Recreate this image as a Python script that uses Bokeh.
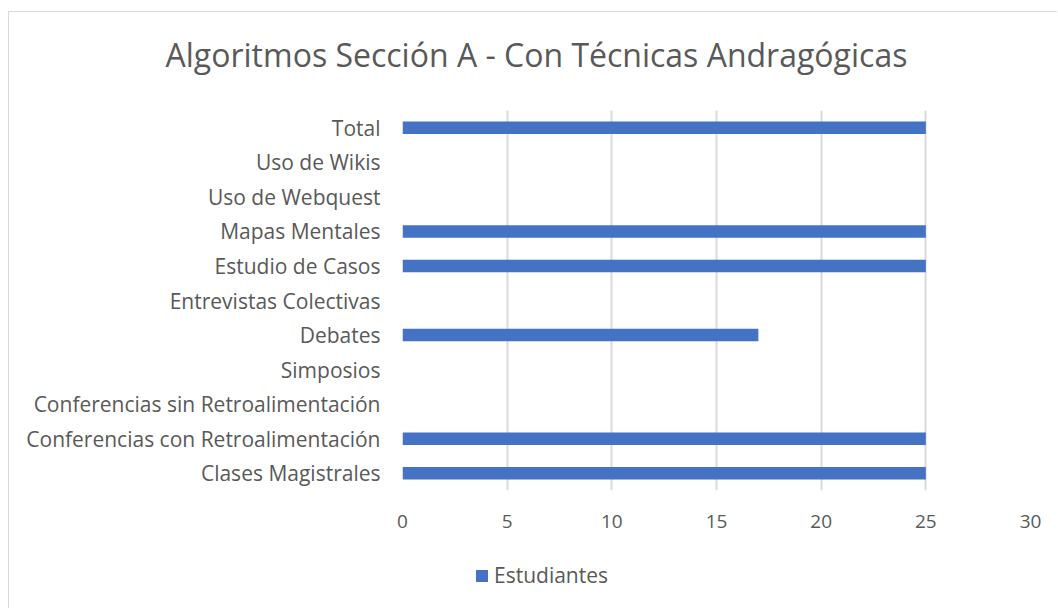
from bokeh.plotting import figure
from bokeh.layouts import column
from bokeh.models import FactorRange, Legend, LegendItem, ColumnDataSource, FixedTicker
from bokeh.embed import file_html
from bokeh.resources import INLINE

categories = ["Clases Magistrales", "Conferencias con Retroalimentación",
              "Conferencias sin Retroalimentación", "Simposios", "Debates",
              "Entrevistas Colectivas", "Estudio de Casos", "Mapas Mentales",
              "Uso de Webquest", "Uso de Wikis", "Total"]
estudiantes = [25, 25, 0, 0, 17, 0, 25, 25, 0, 0, 25]
x_ticks = [0, 5, 10, 15, 20, 25, 30]
series_name = "Estudiantes"
chart_title = "Algoritmos Sección A - Con Técnicas Andragógicas"

FONT = "Open Sans"
TXT = "#595959"
BAR = "#4472C4"
W = 1048

src = ColumnDataSource(dict(cat=categories, val=estudiantes))

def blank(fig):
    fig.outline_line_color = None
    fig.grid.visible = False

# title strip
t = figure(width=W, height=78, output_backend="svg", toolbar_location=None,
           x_range=(0, 30), y_range=(0, 1), x_axis_type=None, y_axis_type=None,
           title=chart_title, min_border=0, min_border_left=393, min_border_right=27,
           min_border_top=68, min_border_bottom=0)
blank(t)
t.title.text_font = FONT
t.title.text_font_size = "32px"
t.title.text_font_style = "normal"
t.title.text_color = TXT
t.title.align = "left"
t.title.offset = -237
t.title.vertical_align = "bottom"
t.title.standoff = 10

# main chart
p = figure(width=W, height=455, output_backend="svg", toolbar_location=None,
           y_range=FactorRange(factors=categories, range_padding=0),
           x_range=(0, 30),
           min_border_left=393, min_border_right=27, min_border_top=20, min_border_bottom=55)
p.outline_line_color = None
p.hbar(y="cat", right="val", left=0, height=0.36, source=src,
       fill_color=BAR, line_color=None)

p.xaxis.ticker = FixedTicker(ticks=x_ticks)
for ax in (p.xaxis[0], p.yaxis[0]):
    ax.axis_line_color = None
    ax.major_tick_line_color = None
    ax.minor_tick_line_color = None
    ax.major_label_text_font = FONT
    ax.major_label_text_color = TXT
p.xaxis.major_label_text_font_size = "19px"
p.yaxis.major_label_text_font_size = "21px"
p.xaxis.major_label_standoff = 18
p.yaxis.major_label_standoff = 16

p.xgrid.grid_line_color = "#d9d9d9"
p.xgrid.grid_line_width = 2
p.ygrid.grid_line_color = None

# legend strip
q = figure(width=W, height=63, output_backend="svg", toolbar_location=None,
           x_range=(0, 30), y_range=FactorRange(factors=categories),
           x_axis_type=None, y_axis_type=None,
           min_border=0, min_border_left=393, min_border_right=27,
           min_border_top=0, min_border_bottom=0)
blank(q)
lr = q.hbar(y="cat", right="val", left=0, height=0.36, source=src,
            fill_color=BAR, line_color=None, visible=False)
legend = Legend(items=[LegendItem(label=series_name, renderers=[lr])],
                location=(72, 19), orientation="horizontal", click_policy="none",
                label_text_font=FONT, label_text_font_size="21px", label_text_color=TXT,
                glyph_width=15, glyph_height=15, border_line_color=None,
                background_fill_alpha=0, label_standoff=5, padding=4, margin=0)
q.add_layout(legend, "center")

layout = column(t, p, q, spacing=0)
layout.styles = {"margin-left": "8px", "margin-top": "11px",
                 "border-left": "1px solid #d9d9d9", "border-top": "1px solid #d9d9d9"}

open("out.html", "w").write(file_html(layout, INLINE))
